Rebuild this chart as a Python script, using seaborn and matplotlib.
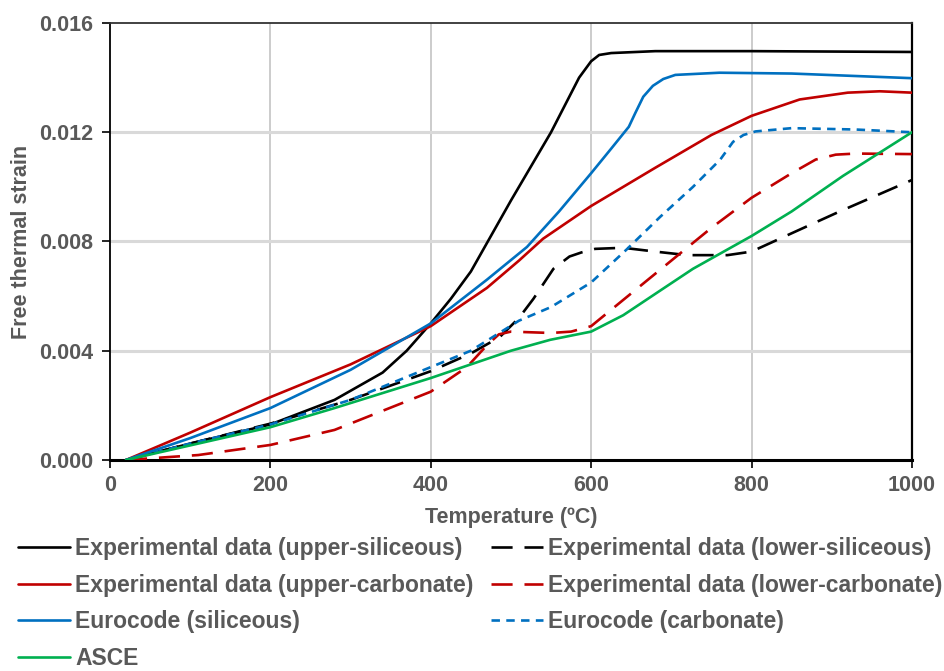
import numpy as np
import pandas as pd
import matplotlib
matplotlib.use("Agg")
import matplotlib.pyplot as plt
import seaborn as sns

# ---- data ----
T_upper_sil = [20, 100, 200, 280, 340, 370, 400, 425, 450, 500, 550, 585, 600, 610, 625, 680, 800, 1000]
S_upper_sil = [0, 0.0006, 0.0013, 0.0022, 0.0032, 0.0040, 0.0050, 0.0059, 0.0069, 0.0095, 0.0120, 0.0140, 0.0146, 0.01483, 0.0149, 0.01497, 0.01497, 0.01494]

T_lower_sil = [20, 100, 200, 300, 400, 450, 486, 510, 528, 553, 573, 588, 605, 640, 680, 720, 770, 800, 850, 910, 1000]
S_lower_sil = [0, 0.0006, 0.00133, 0.0022, 0.00325, 0.0039, 0.0045, 0.0052, 0.0059, 0.0070, 0.00745, 0.0076, 0.00773, 0.00777, 0.00763, 0.0075, 0.0075, 0.00763, 0.0083, 0.0091, 0.01025]

T_upper_carb = [20, 100, 200, 300, 400, 470, 510, 540, 600, 680, 750, 800, 860, 920, 960, 1000]
S_upper_carb = [0, 0.0010, 0.0023, 0.0035, 0.0049, 0.0063, 0.0073, 0.0081, 0.0093, 0.0107, 0.0119, 0.0126, 0.0132, 0.01345, 0.0135, 0.01345]

T_lower_carb = [20, 110, 200, 280, 400, 445, 470, 485, 500, 550, 575, 600, 650, 700, 750, 800, 850, 880, 905, 930, 1000]
S_lower_carb = [0, 0.00018, 0.00055, 0.0011, 0.0025, 0.0034, 0.0042, 0.0046, 0.0047, 0.00465, 0.0047, 0.0049, 0.0061, 0.0073, 0.0085, 0.0096, 0.0105, 0.0110, 0.01118, 0.01122, 0.0112]

T_eur_sil = [20, 100, 200, 300, 400, 470, 520, 560, 600, 625, 647, 655, 665, 677, 690, 705, 760, 850, 1000]
S_eur_sil = [0, 0.0008, 0.0019, 0.0033, 0.0050, 0.0066, 0.0078, 0.0091, 0.0105, 0.0114, 0.0122, 0.0127, 0.0133, 0.0137, 0.01395, 0.0141, 0.01418, 0.01415, 0.01398]

T_eur_carb = [20, 100, 200, 300, 400, 450, 510, 550, 600, 644, 686, 727, 761, 777, 790, 805, 850, 930, 1000]
S_eur_carb = [0, 0.0006, 0.0013, 0.0022, 0.0034, 0.0040, 0.0051, 0.0056, 0.0065, 0.0077, 0.0089, 0.0100, 0.0110, 0.01165, 0.01190, 0.01203, 0.01215, 0.0121, 0.0120]

T_asce = [20, 110, 200, 280, 400, 450, 500, 549, 600, 640, 686, 727, 800, 850, 914, 1000]
S_asce = [0, 0.0006, 0.0012, 0.0019, 0.0030, 0.0035, 0.0040, 0.0044, 0.0047, 0.0053, 0.0062, 0.0070, 0.0082, 0.0091, 0.0104, 0.0120]

x_ticks = [0, 200, 400, 600, 800, 1000]
y_ticks = [0.000, 0.004, 0.008, 0.012, 0.016]
y_tick_labels = ["0.000", "0.004", "0.008", "0.012", "0.016"]

series = [
    ("Experimental data (upper-siliceous)", T_upper_sil, S_upper_sil, "#000000", "-"),
    ("Experimental data (lower-siliceous)", T_lower_sil, S_lower_sil, "#000000", (0, (8, 4.5))),
    ("Experimental data (upper-carbonate)", T_upper_carb, S_upper_carb, "#C00000", "-"),
    ("Experimental data (lower-carbonate)", T_lower_carb, S_lower_carb, "#C00000", (0, (8, 4.5))),
    ("Eurocode (siliceous)", T_eur_sil, S_eur_sil, "#0070C0", "-"),
    ("Eurocode (carbonate)", T_eur_carb, S_eur_carb, "#0070C0", (0, (3.2, 2.4))),
    ("ASCE", T_asce, S_asce, "#00B050", "-"),
]

sns.set_style("white")
plt.rcParams["font.family"] = ["Liberation Sans", "DejaVu Sans"]
plt.rcParams["font.weight"] = "bold"

fig, ax = plt.subplots(figsize=(9.44, 6.71), dpi=100)
fig.subplots_adjust(left=0.1165, right=0.966, top=0.9657, bottom=0.3145)

for label, T, S, col, ls in series:
    df = pd.DataFrame({"T": T, "strain": S})
    sns.lineplot(data=df, x="T", y="strain", ax=ax, color=col, linestyle=ls,
                 linewidth=1.9, estimator=None, sort=False, label=label, zorder=3)

ax.set_xlim(0, 1000)
ax.set_ylim(0, 0.016)
ax.set_xticks(x_ticks)
ax.set_yticks(y_ticks)
ax.set_yticklabels(y_tick_labels)

grey = "#595959"
for v in x_ticks[1:-1]:
    ax.axvline(v, color="#C8C8C8", lw=1.3, zorder=1)
for v in y_ticks[1:-1]:
    ax.axhline(v, color="#D9D9D9", lw=2.2, zorder=1)

for side in ["left", "bottom", "right", "top"]:
    ax.spines[side].set_visible(True)
    ax.spines[side].set_color("#000000")
ax.spines["left"].set_linewidth(1.3)
ax.spines["bottom"].set_linewidth(2.2)
ax.spines["right"].set_linewidth(1.6)
ax.spines["top"].set_linewidth(1.3)
ax.spines["top"].set_color("#333333")

ax.tick_params(axis="both", direction="out", length=6, width=1.2, color="#000000",
               labelsize=15.5, labelcolor=grey, bottom=True, left=True)
ax.tick_params(axis="y", pad=6)
ax.tick_params(axis="x", pad=5)
for lab in ax.get_xticklabels() + ax.get_yticklabels():
    lab.set_fontweight("bold")

ax.set_xlabel("Temperature (ºC)", fontsize=15.5, fontweight="bold", color=grey, labelpad=8)
ax.set_ylabel("Free thermal strain", fontsize=15.5, fontweight="bold", color=grey, labelpad=5)

handles, labels = ax.get_legend_handles_labels()
ax.get_legend().remove()
order = [0, 2, 4, 6, 1, 3, 5]
leg = fig.legend([handles[i] for i in order], [labels[i] for i in order],
                 loc="upper left", bbox_to_anchor=(0.019, 0.2), ncol=2, frameon=False,
                 borderpad=0, borderaxespad=0, handlelength=2.27, handletextpad=0.22,
                 labelspacing=0.6, columnspacing=0.75,
                 prop={"size": 16.5, "weight": "bold"})
for t in leg.get_texts():
    t.set_color(grey)

fig.savefig("out.png", dpi=100)
